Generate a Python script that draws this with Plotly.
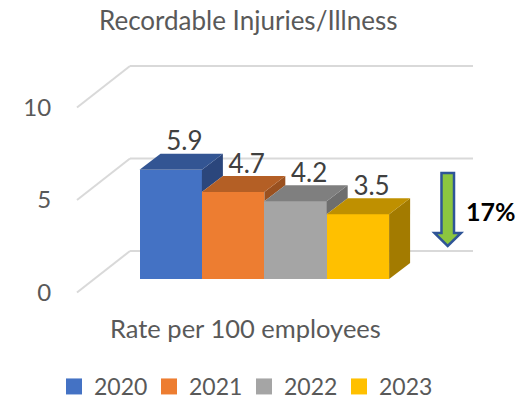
import plotly.graph_objects as go

W, H = 529, 401
title = "Recordable Injuries/Illness"
axis_label = "Rate per 100 employees"
years = ["2020", "2021", "2022", "2023"]
values = [5.9, 4.7, 4.2, 3.5]
front_colors = ["#4472C4", "#ED7D31", "#A5A5A5", "#FFC000"]
top_colors = ["#335593", "#B45F25", "#7F7F7F", "#BF9000"]
side_colors = ["#2B467C", "#9A5120", "#6E6E6E", "#A37B00"]
y_ticks = [0, 5, 10]
change_label = "17%"

# plot box in pixels and scales
L, R, T, B = 76, 475, 60, 296
PX_X = 62.4          # pixels per category
PX_Y = 18.5          # pixels per value unit
X0_PX, Y0_PX = 139.5, 279.0   # left edge of first bar, bar base
dx, dy = 21 / PX_X, 16 / PX_Y  # bar depth in axis units
wall_back_y = 28 / PX_Y        # back wall offset
wall_front_y = -13.5 / PX_Y    # front edge offset
wall_left = (130 - X0_PX) / PX_X - 0.5
wall_front_x = (77 - X0_PX) / PX_X - 0.5
wall_right = (473 - X0_PX) / PX_X - 0.5

x_range = [(L - X0_PX) / PX_X - 0.5, (R - X0_PX) / PX_X - 0.5]
y_range = [(Y0_PX - B) / PX_Y, (Y0_PX - T) / PX_Y]


def px(x):
    return (x - L) / (R - L)


def py(y):
    return (B - y) / (B - T)


fig = go.Figure()

# front faces
idx = list(range(len(values)))
fig.add_trace(go.Bar(x=idx, y=values, width=1, marker=dict(color=front_colors, line=dict(width=0)),
                     showlegend=False, hoverinfo="skip"))

# visible side and top faces, painted left to right
for i, v in enumerate(values):
    xr = i + 0.5
    nxt = values[i + 1] if i + 1 < len(values) else 0
    fig.add_trace(go.Scatter(
        x=[xr, xr + dx, xr + dx, xr, xr],
        y=[v, v + dy, nxt + dy, nxt, v],
        mode="lines", fill="toself", fillcolor=side_colors[i],
        line=dict(width=0, color=side_colors[i]), showlegend=False, hoverinfo="skip"))
    fig.add_trace(go.Scatter(
        x=[i - 0.5, i - 0.5 + dx, xr + dx, xr, i - 0.5],
        y=[v, v + dy, v + dy, v, v],
        mode="lines", fill="toself", fillcolor=top_colors[i],
        line=dict(width=0, color=top_colors[i]), showlegend=False, hoverinfo="skip"))

# value labels
fig.add_trace(go.Scatter(
    x=[i + dx * 0.65 for i in idx], y=[v + dy - 3 / PX_Y for v in values],
    mode="text", text=[f"{v:.1f}" for v in values], textposition="top center",
    textfont=dict(family="Lato", size=26, color="#404040"),
    showlegend=False, hoverinfo="skip", cliponaxis=False))

# legend entries
for name, c in zip(years, front_colors):
    fig.add_trace(go.Scatter(x=[None], y=[None], mode="markers", name=name,
                             marker=dict(symbol="square", size=16, color=c)))

# gridlines on floor-to-wall planes
shapes = []
for t in y_ticks:
    shapes.append(dict(type="line", layer="below", xref="x", yref="y",
                       x0=wall_left, x1=wall_right, y0=t + wall_back_y, y1=t + wall_back_y,
                       line=dict(color="#D9D9D9", width=2)))
    shapes.append(dict(type="line", layer="below", xref="x", yref="y",
                       x0=wall_front_x, x1=wall_left, y0=t + wall_front_y, y1=t + wall_back_y,
                       line=dict(color="#D9D9D9", width=2)))

# green down arrow
arrow = [(441.5, 173), (454, 173), (454, 233), (461, 233), (447.7, 246), (434.5, 233), (441.5, 233)]
path = "M " + " L ".join(f"{px(a):.4f},{py(b):.4f}" for a, b in arrow) + " Z"
shapes.append(dict(type="path", xref="paper", yref="paper", path=path, fillcolor="#8CC63F",
                   line=dict(color="#2F5597", width=2.5)))

base = dict(xref="paper", yref="paper", showarrow=False, xanchor="center", yanchor="middle")
fig.update_layout(
    width=W, height=H, autosize=False,
    paper_bgcolor="white", plot_bgcolor="rgba(0,0,0,0)",
    margin=dict(l=L, r=W - R, t=T, b=H - B, autoexpand=False),
    barmode="overlay", bargap=0,
    shapes=shapes,
    xaxis=dict(range=x_range, visible=False, fixedrange=True),
    yaxis=dict(range=y_range, tickvals=[t + wall_front_y for t in y_ticks], ticktext=[str(t) for t in y_ticks],
               ticks="outside", ticklen=19, tickcolor="rgba(0,0,0,0)", showgrid=False, zeroline=False,
               showline=False, tickfont=dict(family="Lato", size=24, color="#595959"), fixedrange=True),
    legend=dict(orientation="h", x=px(54), y=py(365), xanchor="left", yanchor="top",
                font=dict(family="Lato", size=23, color="#595959"), itemclick=False, itemdoubleclick=False,
                bgcolor="rgba(0,0,0,0)", entrywidth=50, entrywidthmode="pixels"),
    annotations=[
        dict(base, x=px(248), y=py(20), text=title, font=dict(family="Lato", size=26, color="#595959")),
        dict(base, x=px(245.5), y=py(328), text=axis_label, font=dict(family="Lato", size=25.5, color="#595959")),
        dict(base, x=px(491), y=py(211), text=f"<b>{change_label}</b>", font=dict(family="Lato", size=25, color="#000000")),
    ],
    font=dict(family="Lato"),
)

fig.write_html("out.html", config=dict(displayModeBar=False),
               post_script="document.body.style.margin='0';")
